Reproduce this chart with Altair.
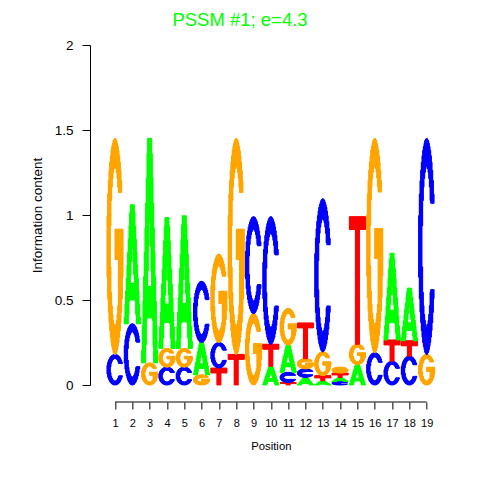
import altair as alt
import numpy as np
import pandas as pd

positions = list(range(1, 20))
# stacking order of letters in each column, bottom -> top
stack_order = ["CG", "CA", "GA", "CGA", "CGA", "GAC", "TCG", "TG", "GC", "ATC",
               "TCAG", "ACGT", "ATGC", "CATG", "AGT", "CG", "CTA", "CTA", "GC"]
# information content carried by each letter (bits)
A_bits = [0, 0.70, 1.32, 0.77, 0.78, 0.19, 0, 0, 0, 0.11, 0.16, 0.045, 0.025, 0.025, 0.12, 0, 0.51, 0.31, 0]
C_bits = [0.18, 0.36, 0, 0.105, 0.105, 0.36, 0.15, 0, 0.57, 0.75, 0.06, 0.05, 0.90, 0.02, 0, 0.19, 0.14, 0.17, 1.27]
G_bits = [1.27, 0, 0.13, 0.11, 0.11, 0.06, 0.52, 1.27, 0.42, 0, 0.215, 0.06, 0.14, 0.035, 0.12, 1.26, 0, 0, 0.18]
T_bits = [0, 0, 0, 0, 0, 0, 0.10, 0.18, 0, 0.13, 0.015, 0.21, 0.03, 0.025, 0.75, 0, 0.125, 0.09, 0]
y_ticks = [0, 0.5, 1, 1.5, 2]
letters = ["A", "C", "G", "T"]
letter_colors = ["#00FF00", "#0000FF", "#FFA500", "#FF0000"]
title_text = "PSSM #1; e=4.3"

# ---------------- glyph shapes (unit box, v pointing up) ----------------
PLOT_W, PLOT_H = 329, 340
X_DOM = [0.5, 19.5]
Y_DOM = [0, 2]
LETTER_W = 0.93
NS, NV = 24, 400
WPX = LETTER_W * PLOT_W / (X_DOM[1] - X_DOM[0])


def thick(frac, minpx, sizepx):
    return min(0.45, max(frac, minpx / max(sizepx, 1e-6)))


def ell(u, v, rx, ry):
    return ((u - 0.5) / rx) ** 2 + ((v - 0.5) / ry) ** 2 <= 1


def mask(letter, u, v, hpx):
    if letter in "CG":
        rx_i = 0.5 - thick(0.22, 3, WPX)
        ry_i = 0.5 - thick(0.13, 3, hpx)
        outer = ell(u, v, 0.5, 0.5)
        ring = outer & ~ell(u, v, rx_i, ry_i)
        if letter == "C":
            return ring & ~((u > 0.55) & (v > 0.3) & (v < 0.7))
        bt = thick(0.14, 2.5, hpx)
        top = 0.58
        opening = (u > 0.55) & (v > top) & (v < 0.75)
        bar = (v >= top - bt) & (v <= top) & (u >= 0.5) & outer
        stem = (u >= 0.72) & (v <= top) & outer
        return (ring & ~opening) | bar | stem
    if letter == "A":
        outer = (u >= 0.38 * v) & (u <= 1 - 0.38 * v)
        legw = 0.24
        inner = (u > 0.38 * v + legw) & (u < 1 - 0.38 * v - legw)
        cb_bot = 0.2
        cb_top = cb_bot + thick(0.14, 2.5, hpx)
        return outer & ~(inner & ((v > cb_top) | (v < cb_bot)))
    # T
    tb = thick(0.1, 5, hpx)
    return (v >= 1 - tb) | ((u >= 0.36) & (u <= 0.64))


bits = {"A": A_bits, "C": C_bits, "G": G_bits, "T": T_bits}
rows = []
vs = (np.arange(NV) + 0.5) / NV
for i, pos in enumerate(positions):
    base = 0.0
    for L in stack_order[i]:
        h = bits[L][i]
        if h <= 0:
            continue
        hpx = h * PLOT_H / (Y_DOM[1] - Y_DOM[0])
        for j in range(NS):
            u = (j + 0.5) / NS
            m = mask(L, u, vs, hpx).astype(int)
            d = np.diff(np.concatenate([[0], m, [0]]))
            starts = np.where(d == 1)[0]
            ends = np.where(d == -1)[0]
            x0 = pos - LETTER_W / 2 + LETTER_W * j / NS
            x1 = pos - LETTER_W / 2 + LETTER_W * (j + 1) / NS
            for s, e in zip(starts, ends):
                rows.append({
                    "letter": L,
                    "x0": round(x0, 5), "x1": round(x1, 5),
                    "y0": round(base + h * s / NV, 5), "y1": round(base + h * e / NV, 5),
                })
        base += h

df = pd.DataFrame(rows)

FONT = "Liberation Sans"
color_scale = alt.Scale(domain=letters, range=letter_colors)

glyphs = alt.Chart(df).mark_rect(strokeWidth=1).encode(
    x=alt.X("x0:Q", scale=alt.Scale(domain=X_DOM, nice=False, zero=False),
            axis=alt.Axis(values=positions, tickCount=len(positions), title="Position",
                          domain=False, grid=False,
                          tickSize=7, tickColor="black", tickWidth=1, offset=17,
                          labelFont=FONT, labelFontSize=11, labelColor="black", labelPadding=8,
                          labelFlush=False, labelOverlap=False, format="d",
                          titleFont=FONT, titleFontSize=11.3, titleFontWeight="normal",
                          titleColor="black", titlePadding=12)),
    x2="x1:Q",
    y=alt.Y("y0:Q", scale=alt.Scale(domain=Y_DOM, nice=False, zero=True),
            axis=alt.Axis(values=y_ticks, tickCount=len(y_ticks), title="Information content",
                          grid=False, domainColor="black", domainWidth=1, offset=16.35,
                          tickSize=8, tickColor="black", tickWidth=1,
                          labelFont=FONT, labelFontSize=13.5, labelColor="black", labelPadding=9,
                          labelFlush=False, format="~g",
                          titleFont=FONT, titleFontSize=13.5, titleFontWeight="normal",
                          titleColor="black", titlePadding=10)),
    y2="y1:Q",
    color=alt.Color("letter:N", scale=color_scale, legend=None),
    stroke=alt.Stroke("letter:N", scale=color_scale, legend=None),
)

x_axis_line = alt.Chart(pd.DataFrame({"a": [positions[0]], "b": [positions[-1]]})).mark_rule(
    color="black", strokeWidth=1
).encode(
    x=alt.X("a:Q"), x2="b:Q", y=alt.value(PLOT_H + 17)
)

# figure title (centred on the whole 480px figure, like the reference)
title_mark = alt.Chart(pd.DataFrame({"t": [title_text]})).mark_text(
    font=FONT, fontSize=18.5, color="#00FF00", align="center", baseline="alphabetic"
).encode(
    text="t:N", x=alt.value(240 - 106.35), y=alt.value(26 - 45)
)

chart = alt.layer(glyphs, x_axis_line, title_mark).properties(
    width=PLOT_W, height=PLOT_H,
    padding={"left": 98.35, "top": 37, "right": 36.65, "bottom": 87},
    autosize=alt.AutoSizeParams(type="none"),
).configure_view(stroke=None)

chart.save("out.html", embed_options={"renderer": "svg", "actions": False})
